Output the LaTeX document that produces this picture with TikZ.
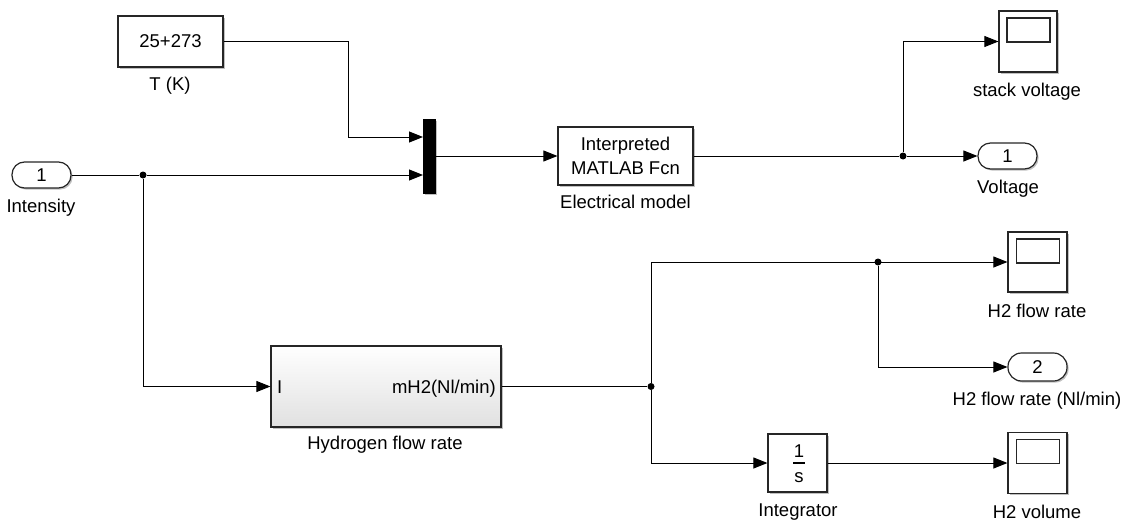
\documentclass[tikz,border=0pt]{standalone}
\usepackage{fontspec}
\setmainfont{Liberation Sans}
\usetikzlibrary{arrows.meta,shadows,calc}
\begin{document}
\begin{tikzpicture}[x=1pt,y=-1pt,
  font=\fontsize{18.5}{21}\selectfont,
  sig/.style={line width=1pt,-{Triangle[length=14pt,width=11pt]}},
  wire/.style={line width=1pt},
  blk/.style={draw=black!85,line width=1.2pt,fill=white,minimum width=#1,inner sep=0pt,
     drop shadow={shadow xshift=1.6pt,shadow yshift=-1.6pt,fill=black!45,opacity=0.55}},
  port/.style={draw=black!85,line width=1.2pt,fill=white,minimum width=59pt,minimum height=26pt,
     rounded corners=12.5pt,inner sep=0pt,
     drop shadow={shadow xshift=1.6pt,shadow yshift=-1.6pt,fill=black!45,opacity=0.55}},
  inner/.style={draw=black!85,line width=1.2pt,minimum width=43pt,minimum height=24pt,inner sep=0pt},
  lbl/.style={anchor=base,inner sep=0pt},
  dot/.style={circle,fill=black,inner sep=0pt,minimum size=7pt}
]
\useasboundingbox (0,0) rectangle (1127,522);
% blocks
\node[blk=105pt,minimum height=51pt] (const) at (170.5,41.5) {25+273};
\node[lbl] (constl) at (170,90) {T (K)};
\node[draw=black,fill=black,minimum width=12pt,minimum height=74pt,inner sep=0pt,
  drop shadow={shadow xshift=1.6pt,shadow yshift=-1.6pt,fill=black!45,opacity=0.55}] (mux) at (429,156) {};
\node[port] (in1) at (41.5,175) {1};
\node[lbl] (in1l) at (41,212) {Intensity};
\node[blk=135pt,minimum height=58pt,align=center,font=\fontsize{18.5}{24}\selectfont] (em) at (625.5,156) {Interpreted\\MATLAB Fcn};
\node[lbl] (eml) at (625.5,208) {Electrical model};
\node[blk=58pt,minimum height=61pt] (sv) at (1028,41.5) {};
\node[inner] (svi) at (1028.5,30) {};
\node[lbl] (svl) at (1027,96) {stack voltage};
\node[port] (out1) at (1007.5,156) {1};
\node[lbl] (out1l) at (1008,193) {Voltage};
\node[draw=black!85,line width=1.2pt,minimum width=230pt,minimum height=81pt,inner sep=0pt,
  top color=white,bottom color=black!12,
  drop shadow={shadow xshift=1.6pt,shadow yshift=-1.6pt,fill=black!45,opacity=0.55}] (hfr) at (386,386.5) {};
\node[anchor=base west,inner sep=0pt] (hfri) at (277,393) {I};
\node[anchor=base east,inner sep=0pt] (hfro) at (496,393) {mH2(Nl/min)};
\node[lbl] (hfrl) at (385,449) {Hydrogen flow rate};
\node[blk=59pt,minimum height=60pt] (hs) at (1037.5,262) {};
\node[inner] (hsi) at (1038,251) {};
\node[lbl] (hsl) at (1037,317) {H2 flow rate};
\node[port,minimum height=28pt,rounded corners=13.5pt] (out2) at (1037.5,367) {2};
\node[lbl] (out2l) at (1037,405) {H2 flow rate (Nl/min)};
\node[blk=59pt,minimum height=58pt] (int) at (797.5,463) {};
\node[lbl] (intn) at (799,457) {1};
\node[lbl] (intd) at (799,482) {s};
\draw[line width=1.2pt] (793,463) coordinate (f1) -- (805,463) coordinate (f2);
\node[lbl] (intl) at (798,516) {Integrator};
\node[blk=59pt,minimum height=61pt] (hv) at (1037.5,463) {};
\node[inner] (hvi) at (1038,451.5) {};
\node[lbl] (hvl) at (1037,518) {H2 volume};
% junctions
\coordinate (mi1) at (423,137);
\coordinate (mi2) at (423,175);
\node[dot] (d1) at (143,175) {};
\node[dot] (d2) at (903,156) {};
\node[dot] (d3) at (651,386.5) {};
\node[dot] (d4) at (878,262) {};
% connectors
\draw[sig] (const.east) -- (348,41.5) |- (mi1);
\draw[wire] (in1.east) -- (d1);
\draw[sig] (d1) -- (mi2);
\draw[sig] (d1) |- (hfr.west);
\draw[sig] (mux.east) -- (em.west);
\draw[wire] (em.east) -- (d2);
\draw[sig] (d2) -- (out1.west);
\draw[sig] (d2) |- (sv.west);
\draw[wire] (hfr.east) -- (d3);
\draw[sig] (d3) |- (hs.west);
\draw[sig] (d4) |- (out2.west);
\draw[sig] (d3) |- (int.west);
\draw[sig] (int.east) -- (hv.west);
\end{tikzpicture}
\end{document}
